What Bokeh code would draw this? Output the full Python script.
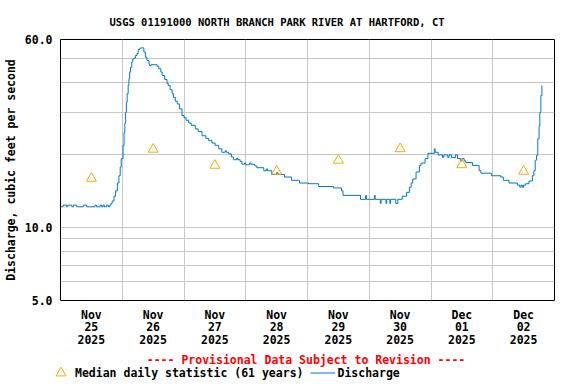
from bokeh.plotting import figure
from bokeh.layouts import column
from bokeh.models import Range1d, FixedTicker, Legend, LegendItem, Label
from bokeh.embed import file_html
from bokeh.resources import INLINE

TITLE = "USGS 01191000 NORTH BRANCH PARK RIVER AT HARTFORD, CT"
Y_LABEL = "Discharge, cubic feet per second"
NOTE = "---- Provisional Data Subject to Revision ----"
MEDIAN_LABEL = "Median daily statistic (61 years)"
FLOW_LABEL = "Discharge"

# x positions are in days since 2025-11-25 00:00
day_centers = [0.5, 1.5, 2.5, 3.5, 4.5, 5.5, 6.5, 7.5]
day_labels = ["Nov\n25\n2025", "Nov\n26\n2025", "Nov\n27\n2025", "Nov\n28\n2025",
              "Nov\n29\n2025", "Nov\n30\n2025", "Dec\n01\n2025", "Dec\n02\n2025"]
day_edges = [1, 2, 3, 4, 5, 6, 7]

y_ticks = [5, 10, 60]
y_tick_labels = ["5.0", "10.0", "60.0"]
y_grid = [6, 7, 8, 9, 10, 20, 30, 40, 50]

median_hour = [12, 36, 60, 84, 108, 132, 156, 180]
median_cfs = [16.0, 21.1, 18.1, 17.1, 19.0, 21.2, 18.2, 17.1]

flow_hour = [0.0, 1.0, 2.3, 2.8, 4.4, 5.0, 6.3, 8.9, 10.2, 13.4, 14.0, 15.4, 15.9, 16.5,
             17.0, 18.0, 18.6, 19.2, 19.6, 20.1, 20.8, 21.4, 22.1, 22.7, 23.2, 23.6,
             24.3, 24.7, 25.0, 25.3, 25.6, 25.9, 26.3, 26.6, 26.9, 27.2, 27.7, 28.1,
             28.6, 29.1, 29.7, 30.2, 30.7, 31.1, 32.0, 32.4, 33.0, 33.6, 34.4, 34.6,
             35.2, 36.5, 37.5, 38.2, 39.0, 39.5, 40.5, 41.4, 41.9, 42.6, 43.4, 43.9,
             44.6, 45.4, 46.2, 47.2, 48.0, 48.8, 49.8, 50.8, 52.4, 53.5, 55.0, 56.5,
             57.6, 58.9, 60.1, 61.5, 62.7, 64.0, 64.5, 65.3, 66.4, 67.2, 68.5, 68.8,
             69.8, 70.5, 71.5, 72.0, 73.5, 74.0, 75.5, 76.3, 79.0, 80.0, 80.5, 82.1,
             84.0, 84.5, 87.1, 89.8, 92.9, 96.4, 100.3, 106.1, 109.2, 109.8, 116.6,
             118.6, 118.9, 122.0, 122.3, 124.3, 124.6, 126.5, 126.8, 128.0, 128.3,
             130.3, 131.1, 132.8, 133.5, 134.5, 135.6, 136.3, 136.9, 138.2, 139.5,
             140.1, 141.7, 142.8, 145.3, 145.6, 146.8, 148.5, 149.0, 150.5, 151.0,
             152.0, 153.5, 154.3, 155.5, 156.0, 156.9, 157.5, 160.1, 162.7, 163.4,
             167.5, 171.1, 172.1, 174.3, 177.6, 178.5, 179.0, 179.5, 180.0, 180.8,
             182.1, 183.4, 184.0, 184.5, 185.0, 185.5, 186.0, 186.3, 186.7, 187.1]
flow_cfs = [12.2, 12.4, 12.2, 12.4, 12.2, 12.4, 12.2, 12.4, 12.2, 12.4, 12.2, 12.4, 12.2, 12.4,
            12.2, 12.4, 12.2, 12.4, 12.6, 12.9, 13.5, 14.2, 15.3, 16.4, 17.8, 19.3,
            21.9, 24.8, 27.0, 30.0, 33.0, 35.8, 38.8, 41.3, 44.0, 46.0, 48.5, 49.9,
            50.2, 51.5, 52.5, 54.5, 55.0, 55.4, 55.4, 53.2, 50.7, 49.1, 47.5, 46.8,
            47.2, 47.2, 46.5, 45.4, 44.0, 42.6, 41.0, 39.5, 38.7, 37.2, 35.8, 34.6,
            33.3, 32.5, 31.0, 29.1, 28.5, 27.8, 27.1, 26.5, 25.6, 25.0, 24.0, 23.4,
            22.9, 22.4, 21.9, 21.2, 20.5, 20.8, 20.5, 20.2, 19.6, 19.1, 19.4, 19.1,
            18.8, 18.3, 18.5, 18.2, 18.5, 18.3, 18.0, 17.7, 17.2, 17.5, 17.2, 16.6,
            16.9, 16.6, 16.2, 15.7, 15.3, 15.2, 14.8, 14.6, 14.2, 13.6, 13.1,
            13.6, 13.1, 13.6, 13.1, 12.6, 13.1, 12.6, 13.1, 12.6, 13.1,
            12.6, 13.1, 13.5, 13.5, 14.0, 14.7, 15.3, 15.9, 17.0, 18.1,
            18.5, 19.3, 20.3, 21.2, 20.5, 20.0, 19.5, 20.0, 19.5, 20.0,
            19.5, 20.0, 19.3, 18.9, 19.3, 18.9, 18.6, 18.1, 17.2, 16.8,
            16.4, 16.2, 15.7, 15.3, 15.0, 14.7, 15.0, 14.7, 15.0, 15.2,
            15.6, 16.4, 17.2, 19.0, 19.9, 23.3, 26.4, 30.0, 35.2, 38.7]

flow_day = [h / 24 for h in flow_hour]
median_day = [h / 24 for h in median_hour]

FONT = "DejaVu Sans Mono"
BLUE = "#0077CC"
ORANGE = "#FFA500"
GRID = "#C8C8C8"

p = figure(width=576, height=349, x_range=Range1d(0, 8), y_range=Range1d(5, 60),
           y_axis_type="log", output_backend="svg", toolbar_location=None,
           min_border_left=58, min_border_right=22, min_border_top=39, min_border_bottom=49)
p.frame_align = False

p.outline_line_color = "black"
p.outline_line_width = 1
p.outline_line_alpha = 1.0
p.background_fill_color = "white"
p.border_fill_color = "white"

# title
p.title.text = TITLE
p.title.align = "left"
p.title.offset = 49
p.title.text_font = FONT
p.title.text_font_style = "bold"
p.title.text_font_size = "10.5px"
p.title.text_color = "black"
p.title.standoff = 24

# grids
p.xgrid.ticker = FixedTicker(ticks=day_edges)
p.ygrid.ticker = FixedTicker(ticks=y_grid)
for g in (p.xgrid, p.ygrid):
    g.grid_line_color = GRID
    g.grid_line_width = 1

# axes
for ax in (p.xaxis, p.yaxis):
    ax.axis_line_color = None
    ax.major_tick_line_color = None
    ax.minor_tick_line_color = None
    ax.major_tick_out = 0
    ax.major_tick_in = 0
    ax.minor_tick_out = 0
    ax.minor_tick_in = 0
    ax.major_label_text_font = FONT
    ax.major_label_text_font_style = "bold"
    ax.major_label_text_font_size = "11.5px"
    ax.major_label_text_color = "black"

p.xaxis.ticker = FixedTicker(ticks=day_centers)
p.xaxis.major_label_overrides = dict(zip(day_centers, day_labels))
p.xaxis.major_label_text_line_height = 0.9
p.xaxis.major_label_standoff = 7
p.yaxis.ticker = FixedTicker(ticks=y_ticks)
p.yaxis.major_label_overrides = dict(zip(y_ticks, y_tick_labels))
p.yaxis.major_label_standoff = 8
p.yaxis.axis_label = Y_LABEL
p.yaxis.axis_label_text_font = FONT
p.yaxis.axis_label_text_font_style = "bold"
p.yaxis.axis_label_text_font_size = "11.5px"
p.yaxis.axis_label_text_color = "black"
p.yaxis.axis_label_standoff = 4

# data
r_flow = p.step(flow_day, flow_cfs, mode="after", line_color=BLUE, line_width=1)
r_med = p.scatter(median_day, median_cfs, marker="triangle", size=10,
                  fill_color=None, line_color=ORANGE, line_width=1)

# footer strip: provisional note and legend
f = figure(width=576, height=35, x_range=Range1d(0, 576), y_range=Range1d(0, 35),
           output_backend="svg", toolbar_location=None, min_border=0,
           min_border_left=0, min_border_right=0, min_border_top=0, min_border_bottom=0,
           x_axis_location=None, y_axis_location=None)
f.frame_align = False
f.grid.visible = False
f.outline_line_color = None
f.background_fill_color = "white"
f.border_fill_color = "white"

f.add_layout(Label(x=305.5, y=25, x_units="screen", y_units="screen", text=NOTE,
                   text_align="center", text_baseline="middle", text_font=FONT,
                   text_font_style="bold", text_font_size="11.5px", text_color="#FF0000"))

# legend keys: same styles as the plotted series, holding no visible data
nan = float("nan")
k_med = f.scatter(x=[nan], y=[nan], marker="triangle", size=10, fill_color=None,
                  line_color=ORANGE, line_width=1)
k_flow = f.line(x=[nan, nan], y=[nan, nan], line_color=BLUE, line_width=1)

legend = Legend(items=[LegendItem(label=MEDIAN_LABEL, renderers=[k_med]),
                       LegendItem(label=FLOW_LABEL, renderers=[k_flow])],
                location=(48, -1), orientation="horizontal",
                glyph_width=25, glyph_height=25, label_height=25, label_standoff=2,
                padding=0, margin=0, spacing=7, border_line_color=None,
                background_fill_alpha=0)
legend.label_text_font = FONT
legend.label_text_font_style = "bold"
legend.label_text_font_size = "11.5px"
legend.label_text_color = "black"
f.add_layout(legend)

layout = column(p, f, spacing=0)
open("out.html", "w").write(file_html(layout, INLINE))
